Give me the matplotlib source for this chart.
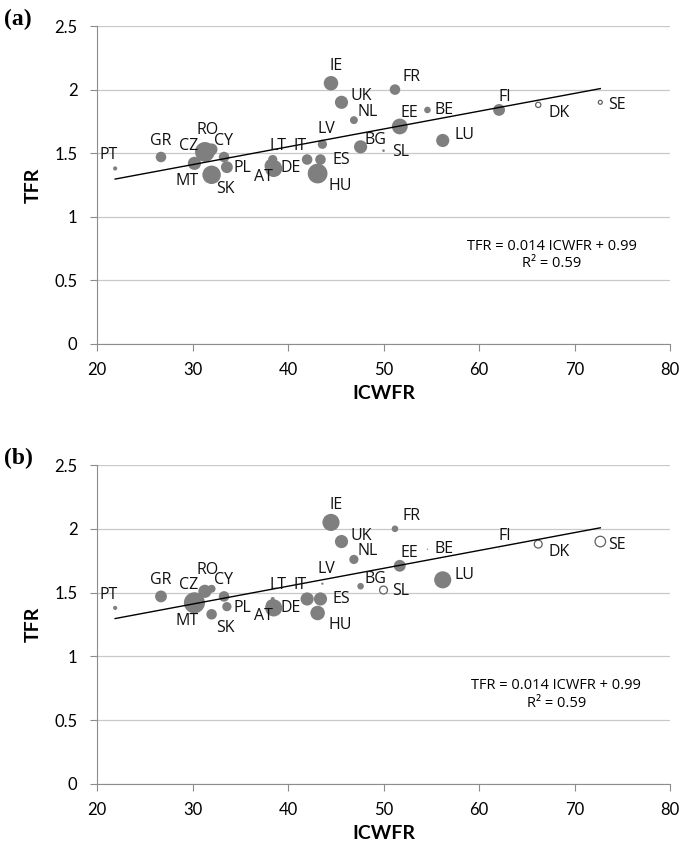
import numpy as np
import matplotlib
matplotlib.use("Agg")
from matplotlib import pyplot as plt

# country codes and ICWFR / TFR
countries = ["PT", "GR", "CZ", "RO", "CY", "MT", "SK", "PL", "LT", "IT", "AT", "DE",
             "ES", "HU", "LV", "IE", "UK", "NL", "BG", "FR", "BE", "EE", "SL", "LU",
             "FI", "DK", "SE"]
icwfr = [21.9, 26.7, 31.3, 32.0, 33.3, 30.2, 32.0, 33.6, 38.4, 42.0, 38.3, 38.5,
         43.4, 43.1, 43.6, 44.5, 45.6, 46.9, 47.6, 51.2, 54.6, 51.7, 50.0, 56.2,
         62.1, 66.2, 72.7]
tfr = [1.38, 1.47, 1.51, 1.53, 1.47, 1.42, 1.33, 1.39, 1.45, 1.45, 1.40, 1.38,
       1.45, 1.34, 1.57, 2.05, 1.90, 1.76, 1.55, 2.00, 1.84, 1.71, 1.52, 1.60,
       1.84, 1.88, 1.90]

# bubble values (negative = hollow bubble)
bubble_a = [1.0, 6.4, 22.5, 8.1, 6.4, 10.0, 19.6, 8.1, 4.9, 6.4, 12.0, 16.9,
            6.4, 22.5, 4.9, 12.1, 10.0, 3.6, 10.0, 6.4, 2.5, 14.4, 0.4, 10.0,
            8.1, -1.6, -0.9]
bubble_b = [1.0, 8.1, 10.0, 3.6, 6.4, 25.6, 6.4, 4.9, 0.9, 10.0, 8.1, 16.9,
            10.0, 12.1, 0.3, 16.9, 10.0, 4.9, 2.5, 2.5, 0.1, 8.1, -3.6, 16.9,
            0.05, -3.6, -6.4]

slope, intercept, r2 = 0.014, 0.99, 0.59

# label offsets in pixels (dx, dy up)
offsets = {"PT": (-7, 13), "GR": (0, 16), "CZ": (-16, 6), "RO": (-4, 19),
           "CY": (-1, 16), "MT": (-7, -18), "SK": (14, -14), "PL": (15, -1),
           "LT": (5, 14), "IT": (-7, 14), "AT": (-8, -11), "DE": (17, 0),
           "ES": (21, 0), "HU": (23, -12), "LV": (4, 15), "IE": (5, 17),
           "UK": (20, 6), "NL": (14, 8), "BG": (15, 7), "FR": (17, 13),
           "BE": (17, 0), "EE": (10, 13), "SL": (17, -1), "LU": (22, 5),
           "FI": (6, 13), "DK": (21, -8), "SE": (17, -3)}

fill = "#7f7f7f"

fig = plt.figure(figsize=(6.87, 8.47), dpi=100)


def panel(rect, bubbles, letter, eq_xy):
    ax = fig.add_axes(rect)
    ax.set_xlim(20, 80)
    ax.set_ylim(0, 2.5)
    ax.set_xticks(range(20, 81, 10))
    ax.set_yticks([0, 0.5, 1, 1.5, 2, 2.5])
    ax.set_yticklabels(["0", "0.5", "1", "1.5", "2", "2.5"])
    ax.grid(axis="y", color="#c8c8c8", lw=0.9)
    ax.set_axisbelow(True)
    for s in ["top", "right"]:
        ax.spines[s].set_visible(False)
    for s in ["left", "bottom"]:
        ax.spines[s].set_color("#8c8c8c")
    ax.tick_params(colors="#8c8c8c", length=5, width=0.8)
    for lab in ax.get_xticklabels() + ax.get_yticklabels():
        lab.set_fontfamily("Lato")
        lab.set_fontsize(12)
        lab.set_color("black")
    ax.tick_params(axis="x", pad=8)
    ax.tick_params(axis="y", pad=9)

    b = np.array(bubbles)
    sizes = np.abs(b) * 9.0
    solid = b > 0
    x = np.array(icwfr)
    y = np.array(tfr)
    ax.scatter(x[solid], y[solid], s=sizes[solid], color=fill, lw=0, zorder=3)
    ax.scatter(x[~solid], y[~solid], s=sizes[~solid], facecolor="white",
               edgecolor="#606060", lw=0.9, zorder=3)

    xs = np.array([min(icwfr), max(icwfr)])
    ax.plot(xs, slope * xs + intercept, color="black", lw=1.0, zorder=4)

    for c, xi, yi in zip(countries, icwfr, tfr):
        dx, dy = offsets[c]
        ax.annotate(c, (xi, yi), xytext=(dx * 0.72, dy * 0.72),
                    textcoords="offset points", ha="center", va="center",
                    fontsize=11.5, family="Open Sans", color="#111111", zorder=5)

    ax.text(eq_xy[0], eq_xy[1],
            "TFR = %.3f ICWFR + %.2f\nR² = %.2f" % (slope, intercept, r2),
            ha="center", va="center", fontsize=10.5, family="Open Sans",
            linespacing=1.25)
    ax.set_xlabel("ICWFR", fontsize=14, fontweight="bold", family="Lato", labelpad=5)
    ax.set_ylabel("TFR", fontsize=14, fontweight="bold", family="Lato", labelpad=9)
    fig.text(0.006, rect[1] + rect[3] + 0.008, letter, fontsize=17,
             fontweight="bold", family="Liberation Serif", va="center")
    return ax


panel([0.1412, 0.5939, 0.8341, 0.3754], bubble_a, "(a)", (67.6, 0.70))
panel([0.1412, 0.0744, 0.8341, 0.3766], bubble_b, "(b)", (68.1, 0.70))

fig.savefig("out.png", dpi=100)
